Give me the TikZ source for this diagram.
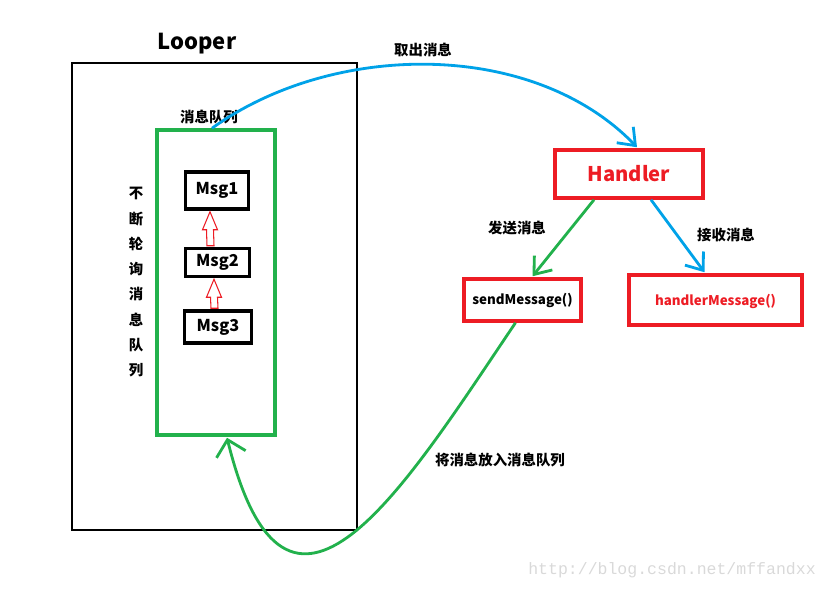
\documentclass[tikz,border=0pt]{standalone}
\usepackage{fontspec}
\setmainfont{Noto Sans CJK SC}
\setmonofont{Liberation Mono}
\usetikzlibrary{calc,arrows.meta}
\newdimen\pxu
\pxu=0.02cm
\definecolor{pgreen}{HTML}{22B14C}
\definecolor{pblue}{HTML}{00A2E8}
\definecolor{pred}{HTML}{ED1C24}
\begin{document}
\begin{tikzpicture}[x=0.02cm,y=-0.02cm,font=\bfseries,
    box/.style={draw,inner sep=0pt,line width=2pt},
    msgbox/.style={box,black,font=\bfseries\fontsize{9.3}{10}\selectfont},
    redbox/.style={box,pred},
    lbl/.style={font=\bfseries\fontsize{8.2}{9}\selectfont,inner sep=0pt},
    hollow/.style={draw=pred,line width=0.6pt,fill=white},
    tip/.style={-{Straight Barb[length=3mm,width=4.6mm]},line width=1.6pt}]
  \useasboundingbox (0,0) rectangle (829,589);

  % Looper with its message queue
  \node[inner sep=0pt,font=\bfseries\fontsize{12.5}{13}\selectfont] (title) at (197,44) {Looper};
  \node[draw,inner sep=0pt,line width=0.6pt,minimum width=285\pxu,minimum height=467\pxu] (looper) at (214.5,296.5) {};
  \node[box,pgreen,minimum width=118\pxu,minimum height=305\pxu] (queue) at (216,282.5) {};
  \node[lbl] (qlabel) at (209,117) {消息队列};

  \node[msgbox,minimum width=63\pxu,minimum height=37\pxu] (m1) at (217,190.5) {Msg1};
  \node[msgbox,minimum width=64\pxu,minimum height=28\pxu] (m2) at (217.5,262.5) {Msg2};
  \node[msgbox,minimum width=67\pxu,minimum height=32\pxu] (m3) at (218,327) {Msg3};

  \foreach \a/\b/\dx in {m2/m1/-7,m3/m2/-3.5}
  {
    \draw[hollow] ($(\a.north)+({\dx-3.5},-1)$) -- ($(\b.south)+({\dx-3.5},19)$) -- ($(\b.south)+({\dx-7.5},19)$)
      -- ($(\b.south)+(\dx,1)$) -- ($(\b.south)+({\dx+7.5},19)$) -- ($(\b.south)+({\dx+3.5},19)$) -- ($(\a.north)+({\dx+3.5},-1)$) -- cycle;
  }

  \foreach[count=\i] \c in {不,断,轮,询,消,息,队,列}
  {
    \node[lbl] (v\i) at (136,{168+25.3*\i}) {\c};
  }

  % Handler side
  \node[redbox,minimum width=148\pxu,minimum height=48\pxu,font=\bfseries\fontsize{11.5}{12}\selectfont] (handler) at (629,174) {\textcolor{pred}{Handler}};
  \node[redbox,minimum width=117\pxu,minimum height=42\pxu,font=\bfseries\fontsize{7.6}{8}\selectfont] (send) at (522.5,300) {\textcolor{black}{sendMessage()}};
  \node[redbox,minimum width=173\pxu,minimum height=50\pxu,font=\bfseries\fontsize{7.6}{8}\selectfont,text depth=-6\pxu] (hmsg) at (715.5,300) {handlerMessage()};

  \node[lbl] (take) at (423,50) {取出消息};
  \node[lbl] (sendlbl) at (517,228) {发送消息};
  \node[lbl] (recvlbl) at (726,235) {接收消息};
  \node[lbl] (putlbl) at (500,460) {将消息放入消息队列};

  % connectors
  \draw[tip,pblue] ($(queue.north)+(-4,0)$) .. controls +(121,-87) and +(-104,-108) .. ($(handler.north)+(8,-1)$);
  \draw[tip,pgreen] ($(handler.south)+(-35,0)$) -- ($(send.north)+(10,-1)$);
  \draw[tip,pblue] ($(handler.south)+(22,0)$) -- ($(hmsg.north)+(-11,-1)$);
  \draw[tip,pgreen,-{Straight Barb[length=3mm,width=6mm]}] ($(send.south)+(-7,0)$) .. controls +(-112,166) and +(60,243) .. ($(queue.south)+(11,1)$);

  \node[font=\ttfamily\fontsize{9.4}{10}\selectfont,text=black!15,inner sep=0pt] (mark) at (672,570) {http://blog.csdn.net/mffandxx};
\end{tikzpicture}
\end{document}
